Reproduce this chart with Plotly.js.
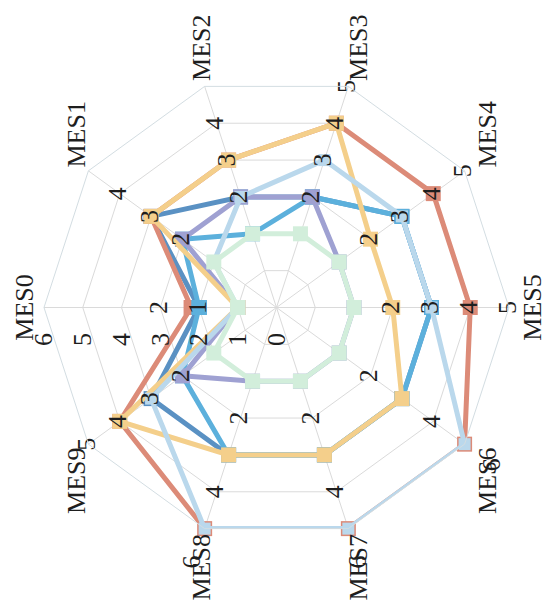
<!DOCTYPE html>
<html>
<head>
<meta charset="utf-8">
<script src="https://cdn.plot.ly/plotly-3.0.1.min.js"></script>
<style>
  html, body { margin: 0; padding: 0; background: #ffffff; overflow: hidden; }
  #wrap { position: relative; width: 553px; height: 615px; overflow: hidden; }
  #chart {
    position: absolute; left: 0; top: 0;
    width: 615px; height: 553px;
    transform-origin: 0 0;
    transform: translate(0px, 615px) rotate(-90deg);
  }
</style>
</head>
<body>
<div id="wrap"><div id="chart"></div></div>
<script>
// Categories (axes of the radar)
const categories = ['MES0','MES1','MES2','MES3','MES4','MES5','MES6','MES7','MES8','MES9'];

// Series values (radial position on the 0-6 scale)
const redVals       = [2.2, 4, 4, 5, 5, 5, 6, 6, 6, 5];
const yellowVals    = [1, 4, 4, 5, 3, 3, 4, 4, 4, 5];
const lightBlueVals = [1, 2, 3, 4, 4, 4, 6, 6, 6, 4];
const blueVals      = [2, 3, 2, 3, 4, 4, 4, 4, 4, 3];
const steelVals     = [2, 4, 3, 3, 4, 4, 4, 4, 4, 4];
const purpleVals    = [1, 3, 3, 3, 2, 2, 2, 2, 2, 3];
const greenVals     = [1, 2, 2, 2, 2, 2, 2, 2, 2, 2];

// Point labels shown on the markers
const redText       = ['', '3', '', '4', '4', '4', '', '', '', '4'];
const yellowText    = ['', '', '3', '', '2', '2', '', '', '', ''];
const lightBlueText = ['', '', '2', '3', '3', '', '', '', '', '3'];
const blueText      = ['1', '2', '', '2', '', '3', '', '', '', '2'];

// Loose labels on the axes (positions and texts)
const looseLowR   = [3, null, null, null, null, null, 3, 3, 3, null];
const looseLowT   = ['2', '', '', '', '', '', '2', '2', '2', ''];
const looseMidR   = [null, 5, 5, 6, 6, 6, 5, 5, 5, 6];
const looseMidT   = ['', '4', '4', '5', '5', '5', '4', '4', '4', '5'];
const looseHighR  = [null, null, null, null, null, null, 6.9, 6.9, 6.9, null];
const looseHighT  = ['', '', '', '', '', '', '6', '6', '6', ''];

// Radial tick values
const radialTicks = [0, 1, 2, 3, 4, 5, 6];

const FONT = 'Liberation Serif, Times New Roman, serif';
const TXT = '#1e1e1e';
const FS = 26;

function closed(a) { return a.concat([a[0]]); }

function series(vals, color, text, msize) {
  const t = {
    type: 'scatterpolar',
    r: closed(vals),
    theta: closed(categories),
    mode: 'lines+markers',
    line: { color: color, width: 5 },
    marker: { symbol: 'square', size: msize || 15, color: color },
    showlegend: false,
    hoverinfo: 'skip'
  };
  return t;
}

function labels(r, text, subplot) {
  return {
    type: 'scatterpolar',
    subplot: subplot || 'polar',
    r: r,
    theta: categories,
    mode: 'text',
    text: text,
    textposition: 'middle center',
    textfont: { family: FONT, size: FS, color: TXT },
    cliponaxis: false,
    showlegend: false,
    hoverinfo: 'skip'
  };
}

const data = [
  series(steelVals, '#5a91c3'),
  series(redVals, '#dc8b78'),
  series(blueVals, '#5cb0dc'),
  series(purpleVals, '#9fa1d2'),
  series(yellowVals, '#f4cf8b'),
  series(lightBlueVals, '#bad8ec', null, 12),
  series(greenVals, '#d2eedb'),
  // labels drawn on top
  labels(redVals, redText),
  labels(yellowVals, yellowText),
  labels(lightBlueVals, lightBlueText),
  labels(blueVals, blueText),
  labels(looseLowR, looseLowT),
  labels(looseMidR, looseMidT),
  labels(looseHighR, looseHighT, 'polar2')
];

// main polar: radius 232.5 px inside a 543x543 plot area
const inner = (543 - 465) / 2 / 543;

const layout = {
  width: 615,
  height: 553,
  margin: { l: 36, r: 36, t: 5, b: 5 },
  paper_bgcolor: '#ffffff',
  showlegend: false,
  font: { family: FONT, size: FS, color: TXT },
  polar: {
    domain: { x: [inner, 1 - inner], y: [inner, 1 - inner] },
    bgcolor: '#ffffff',
    gridshape: 'linear',
    angularaxis: {
      type: 'category',
      categoryarray: categories,
      rotation: 90,
      direction: 'clockwise',
      showline: true,
      linecolor: '#d3dde2',
      linewidth: 1,
      gridcolor: '#dadada',
      ticks: '',
      tickfont: { family: FONT, size: FS, color: TXT }
    },
    radialaxis: {
      range: [0, 6],
      tickvals: radialTicks,
      angle: 90,
      side: 'counterclockwise',
      showline: false,
      gridcolor: '#dadada',
      ticks: 'outside',
      ticklen: 16,
      tickcolor: 'rgba(0,0,0,0)',
      tickfont: { family: FONT, size: FS, color: TXT },
      tickangle: 90
    }
  },
  polar2: {
    domain: { x: [0, 1], y: [0, 1] },
    bgcolor: 'rgba(0,0,0,0)',
    gridshape: 'linear',
    angularaxis: {
      type: 'category',
      categoryarray: categories,
      rotation: 90,
      direction: 'clockwise',
      visible: false,
      showgrid: false,
      showline: false,
      showticklabels: false,
      ticks: ''
    },
    radialaxis: {
      range: [0, 7],
      visible: false,
      showgrid: false,
      showline: false,
      showticklabels: false,
      ticks: ''
    }
  }
};

Plotly.newPlot('chart', data, layout, { displayModeBar: false, staticPlot: true });
</script>
</body>
</html>
